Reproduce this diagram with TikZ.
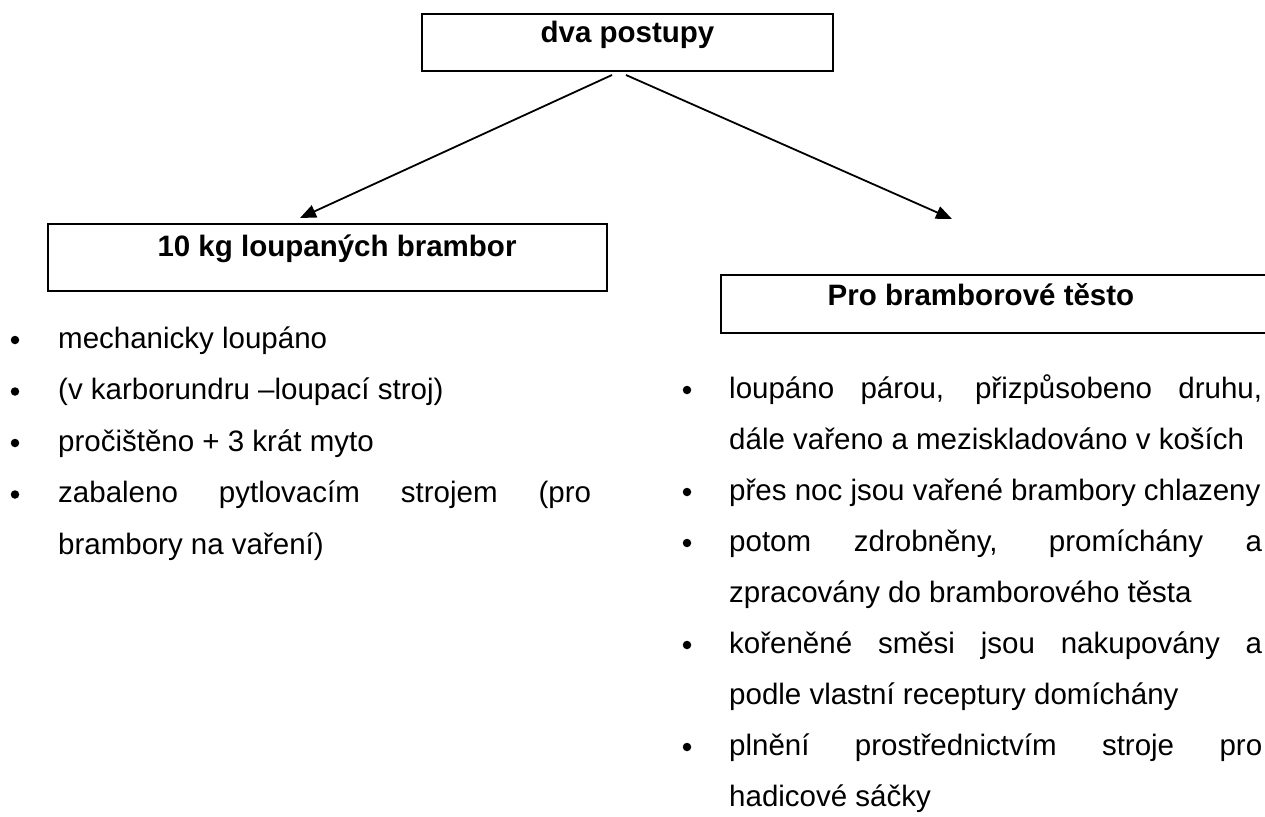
\documentclass[tikz,border=0pt]{standalone}
\usepackage{fontspec}
\setmainfont{Liberation Sans}
\usetikzlibrary{arrows.meta}
\begin{document}
\begin{tikzpicture}[x=1pt,y=-1pt,
  hbox/.style={draw=black, line width=2pt, inner sep=0pt, font=\fontsize{29.5pt}{35pt}\selectfont\bfseries},
  itemtext/.style={anchor=base west, inner sep=0pt, font=\fontsize{29.5pt}{35pt}\selectfont},
  headtext/.style={anchor=base, inner sep=0pt, font=\fontsize{29.5pt}{35pt}\selectfont\bfseries},
  bul/.style={circle, fill=black, inner sep=0pt, minimum size=8.5pt},
  conn/.style={line width=1.8pt, -{Triangle[length=16pt,width=13pt]}}]
\useasboundingbox (0,0) rectangle (1265,816);
\clip (0,0) rectangle (1265,816);
\fill[white] (0,0) rectangle (1265,816);

% boxes
\node[hbox, anchor=north west, minimum width=411pt, text height=28pt, text depth=29pt] (top) at (421,13) {dva postupy};
\node[hbox, anchor=north west, minimum width=559pt, text height=32pt, text depth=35pt] (lbox) at (47,223) {\hspace*{19pt}10 kg loupaných brambor};
\node[hbox, anchor=north west, minimum width=600pt, minimum height=58pt] (rbox) at (720,274) {};
\node[headtext] (rlabel) at (981,305) {Pro bramborové těsto};

% connectors
\coordinate (la) at (612,75);
\coordinate (lt) at (300,218);
\coordinate (ra) at (626,75);
\coordinate (rt) at (952,219);
\draw[conn] (la) -- (lt);
\draw[conn] (ra) -- (rt);

% left list
\node[bul] (lb1) at (15,340) {};
\node[itemtext] (l1) at (58,348) {mechanicky loupáno};
\node[bul] (lb2) at (15,391.5) {};
\node[itemtext] (l2) at (58,399.5) {(v karborundru –loupací stroj)};
\node[bul] (lb3) at (15,443) {};
\node[itemtext] (l3) at (58,451) {pročištěno + 3 krát myto};
\node[bul] (lb4) at (15,494.5) {};
\node[itemtext] (l4) at (58,502.5) {\makebox[533pt][s]{zabaleno pytlovacím strojem (pro}};
\node[itemtext] (l5) at (58,554) {brambory na vaření)};

% right list
\node[bul] (rb1) at (687,390) {};
\node[itemtext] (r1) at (729,398) {\makebox[533pt][s]{loupáno párou, přizpůsobeno druhu,}};
\node[itemtext] (r2) at (729,449) {dále vařeno a meziskladováno v koších};
\node[bul] (rb2) at (687,492) {};
\node[itemtext] (r3) at (729,500) {přes noc jsou vařené brambory chlazeny};
\node[bul] (rb3) at (687,543) {};
\node[itemtext] (r4) at (729,551) {\makebox[533pt][s]{potom zdrobněny, promíchány a}};
\node[itemtext] (r5) at (729,602) {zpracovány do bramborového těsta};
\node[bul] (rb4) at (687,645) {};
\node[itemtext] (r6) at (729,653) {\makebox[533pt][s]{kořeněné směsi jsou nakupovány a}};
\node[itemtext] (r7) at (729,704) {podle vlastní receptury domíchány};
\node[bul] (rb5) at (687,747) {};
\node[itemtext] (r8) at (729,755) {\makebox[533pt][s]{plnění prostřednictvím stroje pro}};
\node[itemtext] (r9) at (729,806) {hadicové sáčky};
\end{tikzpicture}
\end{document}
